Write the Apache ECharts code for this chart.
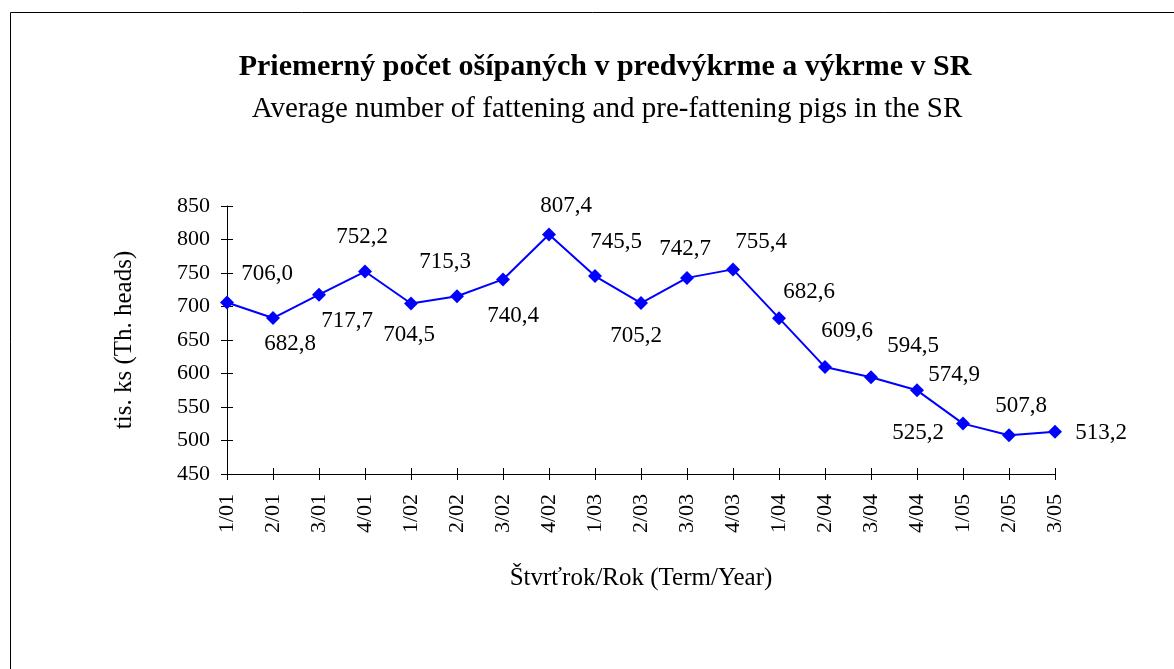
<!DOCTYPE html>
<html>
<head>
<meta charset="utf-8">
<script src="https://cdn.jsdelivr.net/npm/echarts@6/dist/echarts.min.js"></script>
<style>
  html, body { margin: 0; padding: 0; background: #fff; }
  #chart { width: 1174px; height: 669px; }
</style>
</head>
<body>
<div id="chart"></div>
<script>
// data
var categories = ['1/01', '2/01', '3/01', '4/01', '1/02', '2/02', '3/02', '4/02', '1/03', '2/03',
  '3/03', '4/03', '1/04', '2/04', '3/04', '4/04', '1/05', '2/05', '3/05']
var pigs = [706.0, 682.8, 717.7, 752.2, 704.5, 715.3, 740.4, 807.4, 745.5, 705.2,
  742.7, 755.4, 682.6, 609.6, 594.5, 574.9, 525.2, 507.8, 513.2]
var yTicks = [450, 500, 550, 600, 650, 700, 750, 800, 850]

var titleText = 'Priemerný počet ošípaných v predvýkrme a výkrme v SR'
var subText = 'Average number of fattening and pre-fattening pigs in the SR'
var yName = 'tis. ks (Th. heads)'
var xName = 'Štvrťrok/Rok (Term/Year)'

var serif = "'Liberation Serif', 'Times New Roman', serif"

// where each value label sits relative to its marker (like the excel original)
var labelOffsets = [
  [40, -29], [17, 26], [28, 26], [-3, -35], [-2, 31], [-12, -34], [10, 37], [17, -29], [21, -34], [-5, 33],
  [-2, -29], [28, -27], [30, -26], [22, -36], [42, -31], [37, -15], [-45, 9], [12, -29], [46, 1]
]

var seriesData = pigs.map(function(v, i) {
  return {
    value: v,
    label: { offset: labelOffsets[i] }
  }
})

var chart = echarts.init(document.getElementById('chart'))

var option = {
  backgroundColor: '#fff',
  animation: false,
  title: [{
    text: titleText,
    left: 600,
    top: 47,
    textAlign: 'center',
    textStyle: { fontFamily: serif, fontSize: 30, fontWeight: 'bold', color: '#000' }
  }, {
    text: subText,
    left: 602,
    top: 90,
    textAlign: 'center',
    textStyle: { fontFamily: serif, fontSize: 29, fontWeight: 'normal', color: '#000' }
  }],
  graphic: [{
    type: 'rect',
    shape: { x: 10.5, y: 12.5, width: 1200, height: 700 },
    style: { fill: null, stroke: '#000', lineWidth: 1 },
    silent: true
  }],
  grid: {
    left: 227,
    right: 119,
    top: 206,
    bottom: 195
  },
  xAxis: [{
    type: 'category',
    data: categories,
    boundaryGap: false,
    name: xName,
    nameLocation: 'middle',
    nameGap: 92,
    nameTextStyle: { fontFamily: serif, fontSize: 25, color: '#000' },
    axisLine: { lineStyle: { color: '#000', width: 1 } },
    axisTick: { show: true, length: 6, interval: 0, lineStyle: { color: '#000' } },
    axisLabel: {
      interval: 0,
      rotate: 90,
      margin: 20,
      fontFamily: serif,
      fontSize: 22,
      color: '#000'
    },
    splitLine: { show: false }
  }, {
    // second copy only for the inner half of the crossing ticks
    type: 'category',
    data: categories,
    boundaryGap: false,
    position: 'bottom',
    axisLine: { show: false },
    axisTick: { show: true, inside: true, length: 6, interval: 0, lineStyle: { color: '#000' } },
    axisLabel: { show: false },
    splitLine: { show: false }
  }],
  yAxis: [{
    type: 'value',
    min: yTicks[0],
    max: yTicks[yTicks.length - 1],
    interval: yTicks[1] - yTicks[0],
    name: yName,
    nameLocation: 'middle',
    nameGap: 90,
    nameTextStyle: { fontFamily: serif, fontSize: 25, color: '#000' },
    axisLine: { show: true, lineStyle: { color: '#000', width: 1 } },
    axisTick: { show: true, length: 6, lineStyle: { color: '#000' } },
    axisLabel: { margin: 17, fontFamily: serif, fontSize: 22, color: '#000' },
    splitLine: { show: false }
  }, {
    type: 'value',
    min: yTicks[0],
    max: yTicks[yTicks.length - 1],
    interval: yTicks[1] - yTicks[0],
    position: 'left',
    axisLine: { show: false },
    axisTick: { show: true, inside: true, length: 6, lineStyle: { color: '#000' } },
    axisLabel: { show: false },
    splitLine: { show: false }
  }],
  series: [{
    name: 'pigs',
    type: 'line',
    xAxisIndex: 0,
    yAxisIndex: 0,
    data: seriesData,
    symbol: 'diamond',
    symbolSize: 14,
    lineStyle: { color: '#0000ff', width: 2 },
    itemStyle: { color: '#0000ff' },
    label: {
      show: true,
      position: 'inside',
      fontFamily: serif,
      fontSize: 23,
      color: '#000',
      formatter: function(p) {
        return p.value.toFixed(1).replace('.', ',')
      }
    },
    z: 5
  }]
}

chart.setOption(option)
</script>
</body>
</html>
